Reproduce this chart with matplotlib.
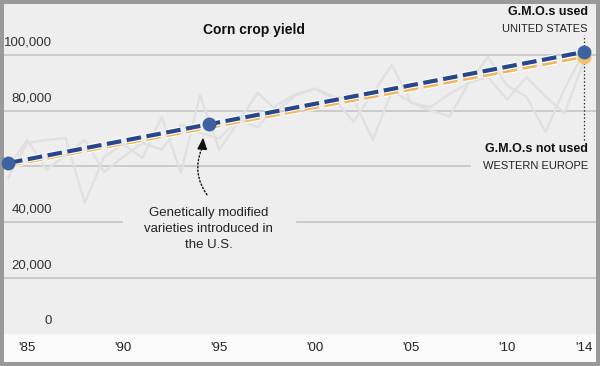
import numpy as np
import matplotlib
matplotlib.use("Agg")
import matplotlib.pyplot as plt
import matplotlib.patheffects as pe
from matplotlib.patches import Rectangle

plt.rcParams["font.family"] = ["Liberation Sans", "DejaVu Sans"]
plt.rcParams["lines.scale_dashes"] = False

# yearly corn yield (hg/ha)
years = list(range(1984, 2015))
us_yield = [55800, 68400, 69500, 70200, 46900, 63400, 68000, 63000, 77800, 57600,
            85600, 65900, 76000, 86400, 80000, 85600, 87800, 84000, 76000, 86400,
            96400, 82800, 81300, 86000, 90000, 99300, 89000, 85000, 72300, 88000,
            101000]
eu_yield = [59800, 69500, 58800, 64000, 69500, 58000, 63400, 68400, 66000, 75000,
            72000, 70000, 77000, 74000, 82000, 86000, 88000, 85000, 84000, 69500,
            87000, 83000, 80000, 78000, 90000, 92000, 84000, 92000, 85000, 79200,
            98000]

# trend lines
trend_years = [1984, 2014]
us_trend = [61200, 101100]
eu_trend = [60200, 99300]
gm_year = 1994.45
gm_value = 75300

ytick_vals = [0, 20000, 40000, 60000, 80000, 100000]
ytick_labels = ["0", "20,000", "40,000", "", "80,000", "100,000"]
xtick_vals = [1985, 1990, 1995, 2000, 2005, 2010, 2014]
xtick_labels = ["'85", "'90", "'95", "'00", "'05", "'10", "'14"]

W, H = 600, 366
fig = plt.figure(figsize=(W / 100, H / 100), dpi=100, facecolor="#999999")

# x-axis strip
fig.patches.append(Rectangle((4 / W, 4 / H), 592 / W, 30 / H, transform=fig.transFigure,
                             facecolor="#fafafa", edgecolor="none", zorder=-1))

ax = fig.add_axes([4 / W, 32 / H, 592 / W, 330 / H], facecolor="#eeeeee")
for s in ax.spines.values():
    s.set_visible(False)
ax.set_xlim(1983.79, 2014.625)
ax.set_ylim(-200, 118300)
ax.set_yticks([])
ax.set_xticks(xtick_vals)
ax.set_xticklabels(xtick_labels, fontsize=9.5, color="#222222")
ax.tick_params(axis="x", length=0, pad=6)

# gridlines (with gaps for labels)
grid_kw = dict(color="#c8c8c8", lw=1.3, zorder=1)
gaps = {40000: [(0, 0.199), (0.495, 1)], 60000: [(0, 0.787)]}
for v, lab in zip(ytick_vals, ytick_labels):
    if v > 0:
        for a, b in gaps.get(v, [(0, 1)]):
            ax.axhline(v, xmin=a, xmax=b, **grid_kw)
    ax.annotate(lab, xy=(0.0811, v), xycoords=("axes fraction", "data"),
                xytext=(0, 9), textcoords="offset points",
                ha="right", va="center", fontsize=9.5, color="#333333", zorder=2)

# annual data
ax.plot(years, us_yield, color="#e0e0e0", lw=1.6, zorder=2)
ax.plot(years, eu_yield, color="#e0e0e0", lw=1.6, zorder=2)

halo = lambda w: [pe.Stroke(linewidth=w, foreground="white"), pe.Normal()]
ax.plot(trend_years, eu_trend, color="#f0b55e", lw=2.0, dashes=(10.5, 4),
        zorder=4, path_effects=halo(3.6))
ax.plot(trend_years, us_trend, color="#27478a", lw=3.0, dashes=(10.5, 4),
        zorder=5, path_effects=halo(4.6))

ax.plot([2014], [eu_trend[1]], "o", ms=9, color="#f2c06a", zorder=6, clip_on=False)
ax.plot([trend_years[0], gm_year, 2014], [us_trend[0], gm_value, us_trend[1]], "o",
        ms=9, color="#3c63a0", zorder=7, clip_on=False)

# dotted leader at right
ax.plot([2014, 2014], [69500, 107200], color="#222222", lw=0.9,
        dashes=(1, 1.6), zorder=3)

ax.text(1996.8, 108800, "Corn crop yield", ha="center", va="center",
        fontsize=10, fontweight="bold", color="#111111")
ax.text(2014.2, 115600, "G.M.O.s used", ha="right", va="center",
        fontsize=9, fontweight="bold", color="#111111")
ax.text(2014.2, 109500, "UNITED STATES", ha="right", va="center",
        fontsize=8, color="#222222")
ax.text(2014.2, 66100, "G.M.O.s not used", ha="right", va="center",
        fontsize=9, fontweight="bold", color="#111111")
ax.text(2014.2, 60300, "WESTERN EUROPE", ha="right", va="center",
        fontsize=8, color="#222222")

ax.text(1994.45, 37400, "Genetically modified\nvarieties introduced in\nthe U.S.",
        ha="center", va="center", fontsize=9.5, color="#222222", linespacing=1.45)

# curved dotted leader, then a solid head
ax.annotate("", xy=(1994.13, 67000), xytext=(1994.45, 49000),
            arrowprops=dict(arrowstyle="-", connectionstyle="arc3,rad=-0.3",
                            color="#111111", lw=1.0, linestyle=(0, (1, 1.6))),
            zorder=6)
ax.annotate("", xy=(1994.16, 70300), xytext=(1994.12, 66500),
            arrowprops=dict(arrowstyle="-|>,head_length=0.7,head_width=0.3",
                            color="#111111", lw=1.0, shrinkA=0, shrinkB=0),
            zorder=6)

fig.savefig("out.png", dpi=100, facecolor=fig.get_facecolor())
